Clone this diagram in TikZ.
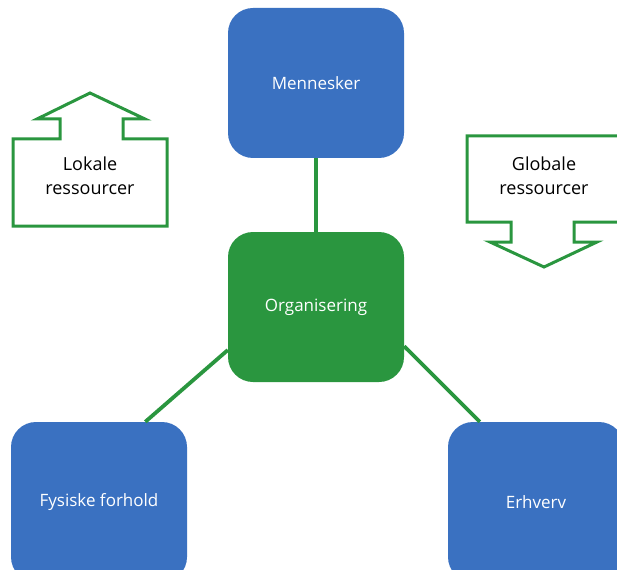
\documentclass[tikz,border=0pt]{standalone}
\usepackage{fontspec}
\setmainfont{Open Sans}
\usepackage{xcolor}
\definecolor{boxblue}{HTML}{3A71C1}
\definecolor{boxgreen}{HTML}{2A963F}
\begin{document}
\begin{tikzpicture}[x=1pt, y=-1pt,
  box/.style={rectangle, rounded corners=25pt, minimum width=176pt, minimum height=150pt, text=white, font=\fontsize{17}{20}\selectfont, anchor=center, inner sep=0pt},
  tallbox/.style={box, minimum height=160pt},
  link/.style={boxgreen, line width=3.8pt},
  callout/.style={boxgreen, line width=3pt, line join=miter},
  res/.style={align=center, font=\fontsize{18}{24}\selectfont}]
  \useasboundingbox (0,0) rectangle (617,569);
  \node[box, fill=boxblue]      (mennesker) at (316,83)  {Mennesker};
  \node[box, fill=boxgreen]     (org)       at (316,307) {Organisering};
  \node[tallbox, fill=boxblue]  (fysisk)    at (99,502)  {Fysiske forhold};
  \node[tallbox, fill=boxblue]  (erhverv)   at (536,502) {Erhverv};
  \draw[link] (mennesker.south) -- (org.north);
  \draw[link] (org.206) -- (fysisk.60);
  \draw[link] (org.336) -- (erhverv.125);
  % lokale ressourcer, arrow up
  \draw[callout] (13,139) -- (60,139) -- (60,119) -- (37,119) -- (90,93) -- (145,119)
    -- (123,119) -- (123,139) -- (167,139) -- (167,226) -- (13,226) -- cycle;
  \node[res] (lokale) at (90,176) {Lokale\\ressourcer};
  % globale ressourcer, arrow down
  \draw[callout] (467,136) -- (621,136) -- (621,222) -- (574,222) -- (574,242) -- (597,242)
    -- (544,267) -- (490,242) -- (511,242) -- (511,222) -- (467,222) -- cycle;
  \node[res] (globale) at (544,176) {Globale\\ressourcer};
\end{tikzpicture}
\end{document}
